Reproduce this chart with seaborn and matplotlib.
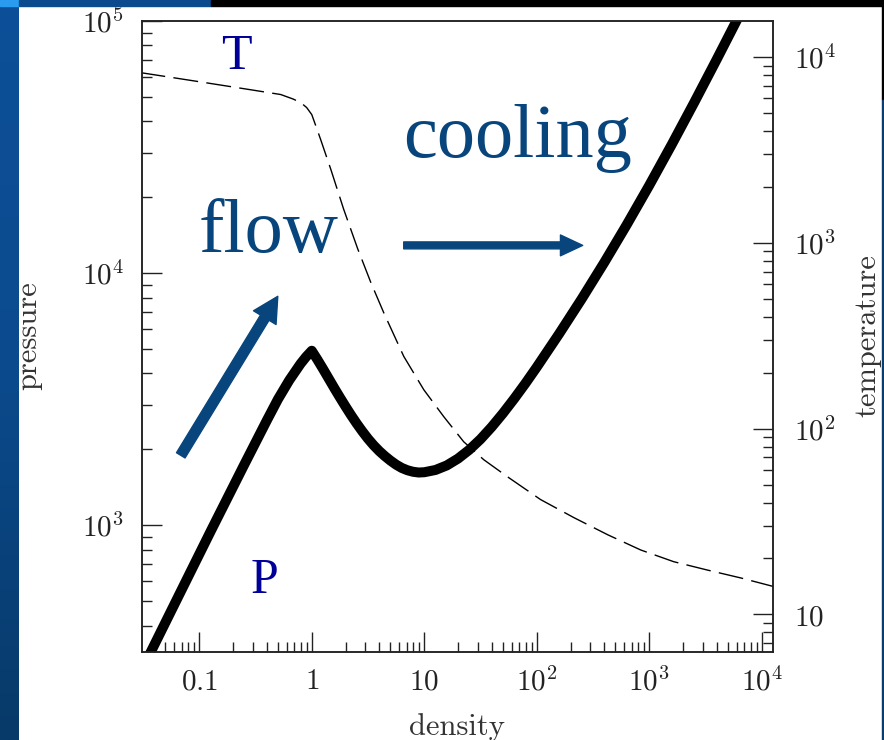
import numpy as np
import pandas as pd
import matplotlib
matplotlib.use("Agg")
import matplotlib.pyplot as plt
import seaborn as sns
from matplotlib.patches import Rectangle
from matplotlib.ticker import FixedLocator, FixedFormatter, LogLocator, NullFormatter

# Pressure along the thermal-equilibrium curve
density_p = [0.0316, 0.0631, 0.126, 0.251, 0.398, 0.501, 0.631, 0.794, 0.891, 1.0,
             1.122, 1.259, 1.413, 1.585, 1.778, 1.995, 2.239, 2.512, 2.818, 3.162,
             3.548, 3.981, 4.467, 5.012, 5.623, 6.310, 7.079, 7.943, 8.913, 10.0,
             12.59, 15.85, 19.95, 25.12, 31.62, 39.81, 50.12, 63.10, 79.43, 100,
             158.5, 251.2, 398.1, 631, 1000, 1585, 2512, 3981, 6310, 7943]
pressure = [272, 507, 944, 1738, 2600, 3162, 3758, 4365, 4656, 4920,
            4539, 4169, 3819, 3499, 3214, 2958, 2729, 2529, 2355, 2203,
            2075, 1968, 1879, 1803, 1738, 1687, 1652, 1629, 1618, 1622,
            1656, 1726, 1837, 1991, 2193, 2455, 2780, 3177, 3656, 4236,
            5754, 7907, 11015, 15560, 22284, 32359, 47534, 70469, 105196, 128825]

# Equilibrium temperature
density_t = [0.03, 0.1, 0.3, 0.53, 0.68, 0.8, 0.9, 1.0, 1.1, 1.2, 1.48, 1.92,
             2.56, 3.34, 4.37, 6.57, 9.9, 14.9, 22.4, 33.8, 55, 108, 213, 428,
             840, 1650, 3300, 6500, 12800]
temperature = [8260, 7380, 6650, 6295, 5960, 5690, 5360, 4910, 4180, 3600, 2480,
               1520, 930, 615, 420, 245, 162, 116, 85, 68, 55, 41.5, 33.2, 26.8,
               22.2, 19.2, 17.3, 15.7, 14.1]

x_ticks = [0.1, 1, 10, 100, 1000, 10000]
x_tick_labels = ["$0.1$", "$1$", "$10$", "$10^{2}$", "$10^{3}$", "$10^{4}$"]
p_ticks = [1e3, 1e4, 1e5]
p_tick_labels = ["$10^{3}$", "$10^{4}$", "$10^{5}$"]
t_ticks = [10, 100, 1000, 10000]
t_tick_labels = ["$10$", "$10^{2}$", "$10^{3}$", "$10^{4}$"]

sns.set_style("ticks")
plt.rcParams["mathtext.fontset"] = "cm"
plt.rcParams["font.family"] = ["DejaVu Serif"]

fig = plt.figure(figsize=(8.84, 7.4), dpi=100)
fig.patch.set_facecolor("white")

# slide frame: blue strip on the left, bars along the top and right
strip = fig.add_axes([0, 0, 19 / 884, 1])
grad = np.linspace(0, 1, 256)[:, None]
strip.imshow(grad, aspect="auto", cmap=matplotlib.colors.LinearSegmentedColormap.from_list(
    "slide", ["#0d5099", "#0b4a8d", "#073a68"]), extent=[0, 1, 0, 1])
strip.axis("off")
fig.add_artist(Rectangle((0, 734 / 740), 19 / 884, 6 / 740, transform=fig.transFigure,
                         color="#2a9cf0", zorder=5))
fig.add_artist(Rectangle((19 / 884, 734 / 740), 192 / 884, 6 / 740, transform=fig.transFigure,
                         color="#0b4a8c", zorder=5))
fig.add_artist(Rectangle((211 / 884, 734 / 740), 673 / 884, 6 / 740, transform=fig.transFigure,
                         color="black", zorder=5))
fig.add_artist(Rectangle((881.5 / 884, 640 / 740), 2.5 / 884, 100 / 740, transform=fig.transFigure,
                         color="black", zorder=5))
fig.add_artist(Rectangle((881.5 / 884, 0), 2.5 / 884, 640 / 740, transform=fig.transFigure,
                         color="#0b3d70", zorder=5))

ax = fig.add_axes([142 / 884, 88 / 740, 631 / 884, 631 / 740])
ax2 = ax.twinx()

df_p = pd.DataFrame({"density": density_p, "pressure": pressure})
df_t = pd.DataFrame({"density": density_t, "temperature": temperature})

sns.lineplot(data=df_p, x="density", y="pressure", ax=ax, color="black", lw=7.2,
             solid_capstyle="round", solid_joinstyle="round", sort=False, errorbar=None)
sns.lineplot(data=df_t, x="density", y="temperature", ax=ax2, color="black", lw=1.0,
             linestyle=(0, (18, 6)), sort=False, errorbar=None)

ax.set_xscale("log")
ax.set_yscale("log")
ax2.set_yscale("log")
ax.set_xlim(10 ** -1.509, 10 ** 4.1)
ax.set_ylim(10 ** 2.497, 1e5)
ax2.set_ylim(10 ** 0.797, 10 ** 4.195)

tick_color = "#222222"
for a in (ax, ax2):
    for s in a.spines.values():
        s.set_linewidth(1.1)
        s.set_color(tick_color)
        s.set_visible(True)

ax.xaxis.set_major_locator(FixedLocator(x_ticks))
ax.xaxis.set_major_formatter(FixedFormatter(x_tick_labels))
ax.xaxis.set_minor_locator(LogLocator(base=10, subs=np.arange(2, 10), numticks=50))
ax.xaxis.set_minor_formatter(NullFormatter())
ax.yaxis.set_major_locator(FixedLocator(p_ticks))
ax.yaxis.set_major_formatter(FixedFormatter(p_tick_labels))
ax.yaxis.set_minor_locator(LogLocator(base=10, subs=np.arange(2, 10), numticks=50))
ax.yaxis.set_minor_formatter(NullFormatter())
ax2.yaxis.set_major_locator(FixedLocator(t_ticks))
ax2.yaxis.set_major_formatter(FixedFormatter(t_tick_labels))
ax2.yaxis.set_minor_locator(LogLocator(base=10, subs=np.arange(2, 10), numticks=50))
ax2.yaxis.set_minor_formatter(NullFormatter())

ax.tick_params(axis="both", which="both", direction="in", top=False, right=False,
               color=tick_color, labelcolor=tick_color, labelsize=21, width=1.0)
ax.tick_params(axis="both", which="major", length=14.4)
ax.tick_params(axis="both", which="minor", length=7.2)
ax.tick_params(axis="y", pad=13)
ax.tick_params(axis="x", pad=11)
ax2.tick_params(axis="y", which="both", direction="in", left=False, right=True,
                color=tick_color, labelcolor=tick_color, labelsize=21, width=1.0, pad=15)
ax2.tick_params(axis="y", which="major", length=14.4)
ax2.tick_params(axis="y", which="minor", length=7.2)

label_kw = dict(fontsize=22, family="cmr10", color="#333333")
ax.set_xlabel("density", **label_kw)
ax.set_ylabel("pressure", **label_kw)
ax2.set_ylabel("temperature", **label_kw)
ax.xaxis.set_label_coords(0.5, -0.097)
ax.yaxis.set_label_coords(-0.158, 0.502)
ax2.yaxis.set_label_coords(1.128, 0.501)

# curve names and flow annotations
ax.text(0.215, 64700, "T", family="Liberation Serif", fontsize=36, color="#000099",
        ha="center", va="baseline")
ax.text(0.382, 537, "P", family="Liberation Serif", fontsize=36, color="#000099",
        ha="center", va="baseline")
flow_color = "#07457c"
ax.text(0.415, 12080, "flow", family="Liberation Serif", fontsize=55, color=flow_color,
        ha="center", va="baseline")
ax.text(67.8, 28770, "cooling", family="Liberation Serif", fontsize=55, color=flow_color,
        ha="center", va="baseline")
ax.annotate("", xy=(0.499, 8090), xytext=(0.0685, 1893),
            arrowprops=dict(arrowstyle="simple,head_length=1.8,head_width=1.9,tail_width=0.72",
                            color=flow_color, mutation_scale=10, shrinkA=0, shrinkB=0))
ax.annotate("", xy=(256, 12880), xytext=(6.57, 12880),
            arrowprops=dict(arrowstyle="simple,head_length=1.6,head_width=1.5,tail_width=0.5",
                            color=flow_color, mutation_scale=10, shrinkA=0, shrinkB=0))

fig.savefig("out.png", dpi=100)
